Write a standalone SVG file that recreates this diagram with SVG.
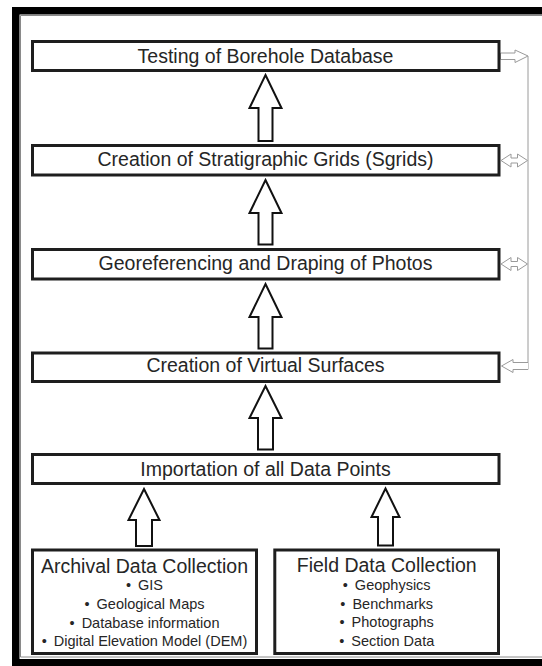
<svg xmlns="http://www.w3.org/2000/svg" width="542" height="666" viewBox="0 0 542 666">
  <style>
    .box { fill: #ffffff; stroke: #1e1e1e; stroke-width: 3; }
    .t { font-family: "Liberation Sans", Arial, sans-serif; font-size: 19.5px; fill: #262626; text-anchor: middle; }
    .b { font-family: "Liberation Sans", Arial, sans-serif; font-size: 14.5px; fill: #262626; text-anchor: middle; }
    .up { fill: #ffffff; stroke: #111111; stroke-width: 2; stroke-linejoin: miter; }
    .side { fill: #ffffff; stroke: #9a9a9a; stroke-width: 1; }
    .vline { fill: none; stroke: #9a9a9a; stroke-width: 1; }
  </style>
  <rect x="0" y="0" width="542" height="666" fill="#ffffff"/>
  <g id="frame">
    <rect x="12" y="7" width="530" height="7.5" fill="#000000"/>
    <rect x="12" y="7" width="7.5" height="659" fill="#000000"/>
    <rect x="12" y="659" width="530" height="7" fill="#000000"/>
    <path d="M20.5,657 L20.5,15.5 L542,15.5 M20.5,657 L542,657" fill="none" stroke="#8a8a8a" stroke-width="1"/>
  </g>

  <g id="connectors">
    <path class="up" d="M265.5,75 L281.5,108 L272.5,108 L272.5,141 L258.5,141 L258.5,108 L249.5,108 Z"/>
    <path class="up" d="M265.5,180 L281.5,213 L272.5,213 L272.5,244.5 L258.5,244.5 L258.5,213 L249.5,213 Z"/>
    <path class="up" d="M265.5,284 L281.5,317 L272.5,317 L272.5,348.5 L258.5,348.5 L258.5,317 L249.5,317 Z"/>
    <path class="up" d="M265.5,386 L281.5,418 L273,418 L273,449.5 L258,449.5 L258,418 L249.5,418 Z"/>
    <path class="up" d="M144,489 L159.5,520 L152,520 L152,546 L136,546 L136,520 L128.5,520 Z"/>
    <path class="up" d="M385.5,488.5 L399.5,517 L393,517 L393,545.5 L378,545.5 L378,517 L371.5,517 Z"/>

    <path class="vline" d="M528,56 L528,369.5"/>
    <path class="side" d="M500.5,53 L515,53 L515,50 L528,56 L515,62.5 L515,59.5 L500.5,59.5 Z"/>
    <path class="side" d="M501,160.5 L511,154 L511,158 L517.5,158 L517.5,154 L527.5,160.5 L517.5,167 L517.5,163 L511,163 L511,167 Z"/>
    <path class="side" d="M501,264 L511,257.5 L511,261.5 L517.5,261.5 L517.5,257.5 L527.5,264 L517.5,270.5 L517.5,266.5 L511,266.5 L511,270.5 Z"/>
    <path class="side" d="M528,362.5 L513,362.5 L513,359.5 L501.5,366 L513,372.5 L513,369.5 L528,369.5"/>
  </g>

  <g id="node-testing">
    <rect class="box" x="32.5" y="41.5" width="466.5" height="29"/>
    <text class="t" x="265.5" y="63">Testing of Borehole Database</text>
  </g>
  <g id="node-sgrids">
    <rect class="box" x="32.5" y="145.5" width="466.5" height="29.5"/>
    <text class="t" x="265.5" y="165.5">Creation of Stratigraphic Grids (Sgrids)</text>
  </g>
  <g id="node-georef">
    <rect class="box" x="32.5" y="249.5" width="466.5" height="29.5"/>
    <text class="t" x="265.5" y="269.5">Georeferencing and Draping of Photos</text>
  </g>
  <g id="node-surfaces">
    <rect class="box" x="32.5" y="353" width="466.5" height="28.5"/>
    <text class="t" x="265.5" y="372">Creation of Virtual Surfaces</text>
  </g>
  <g id="node-import">
    <rect class="box" x="32.5" y="454.5" width="466.5" height="29"/>
    <text class="t" x="265.5" y="475.5">Importation of all Data Points</text>
  </g>
  <g id="node-archival">
    <rect class="box" x="32.5" y="550" width="224" height="103.5"/>
    <text class="t" x="144.5" y="572.5">Archival Data Collection</text>
    <text class="b" x="144.5" y="590"><tspan>•</tspan><tspan dx="3"> GIS</tspan></text>
    <text class="b" x="144.5" y="609"><tspan>•</tspan><tspan dx="3"> Geological Maps</tspan></text>
    <text class="b" x="144.5" y="627.5"><tspan>•</tspan><tspan dx="3"> Database information</tspan></text>
    <text class="b" x="144.5" y="646"><tspan>•</tspan><tspan dx="3"> Digital Elevation Model (DEM)</tspan></text>
  </g>
  <g id="node-field">
    <rect class="box" x="274.8" y="550" width="223.7" height="103.5"/>
    <text class="t" x="386.7" y="571.5">Field Data Collection</text>
    <text class="b" x="386.7" y="590"><tspan>•</tspan><tspan dx="3"> Geophysics</tspan></text>
    <text class="b" x="386.7" y="608.5"><tspan>•</tspan><tspan dx="3"> Benchmarks</tspan></text>
    <text class="b" x="386.7" y="627"><tspan>•</tspan><tspan dx="3"> Photographs</tspan></text>
    <text class="b" x="386.7" y="645.5"><tspan>•</tspan><tspan dx="3"> Section Data</tspan></text>
  </g>
</svg>
